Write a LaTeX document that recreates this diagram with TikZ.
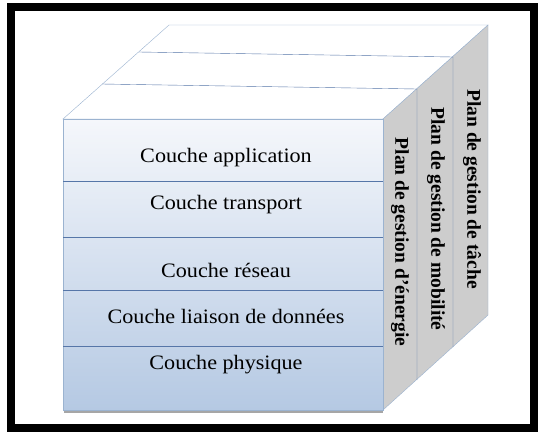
\documentclass[tikz,border=0pt]{standalone}
\usepackage{fontspec}
\setmainfont{Liberation Serif}
\usepackage{tikz}

\definecolor{edgeblue}{HTML}{9BB3D0}
\definecolor{lineblue}{HTML}{5676A8}
\definecolor{facetop}{HTML}{F5F7FB}
\definecolor{facebot}{HTML}{B5C9E3}
\definecolor{sidegray}{HTML}{CDCDCD}

\begin{document}
\begin{tikzpicture}[x=1pt,y=-1pt,
    couche/.style={anchor=base,xscale=1.08,font=\fontsize{20.5}{24}\selectfont},
    plan/.style={rotate=-90,font=\fontsize{19.5}{23}\selectfont\bfseries}]
                \useasboundingbox (0,0) rectangle (540,432);
                \fill [white] (0,0) rectangle (540,432);
                \draw [line width=8pt] (11,7) rectangle (534,428);
                % cube corners
                \coordinate (fl) at (63,119);
                \coordinate (fr) at (383,119);
                \coordinate (bl) at (169,25);
                \coordinate (br) at (488,25);
                \coordinate (dl) at (63,410);
                \coordinate (dr) at (383,410);
                \coordinate (db) at (488,315);
                % top and side faces
                \draw [edgeblue, fill=white] (fl) -- (bl) -- (br) -- (fr) -- cycle;
                \draw [edgeblue, fill=sidegray] (fr) -- (br) -- (db) -- (dr) -- cycle;
                \draw [lineblue] (102,84) -- (417,89) -- (417,380);
                \draw [lineblue] (139,52) -- (453,57) -- (453,347);
                % front face
                \draw [gray!70, line width=2pt] (64,412) -- (383,412);
                \shade [top color=facetop, bottom color=facebot] (fl) rectangle (dr);
                \draw [edgeblue] (fl) rectangle (dr);
                \foreach \y in {181,237,290,346}
                    \draw [lineblue] (63,\y) -- (383,\y);
                \node [couche] (app) at (226,162) {Couche application};
                \node [couche] (tra) at (226,209) {Couche transport};
                \node [couche] (res) at (226,277) {Couche réseau};
                \node [couche] (lia) at (226,323) {Couche liaison de données};
                \node [couche] (phy) at (226,369) {Couche physique};
                \node [plan] (ene) at (400,242) {Plan de gestion d'énergie};
                \node [plan] (mob) at (436,219) {Plan de gestion de mobilité};
                \node [plan] (tac) at (472,189) {Plan de gestion de tâche};
            \end{tikzpicture}
\end{document}
